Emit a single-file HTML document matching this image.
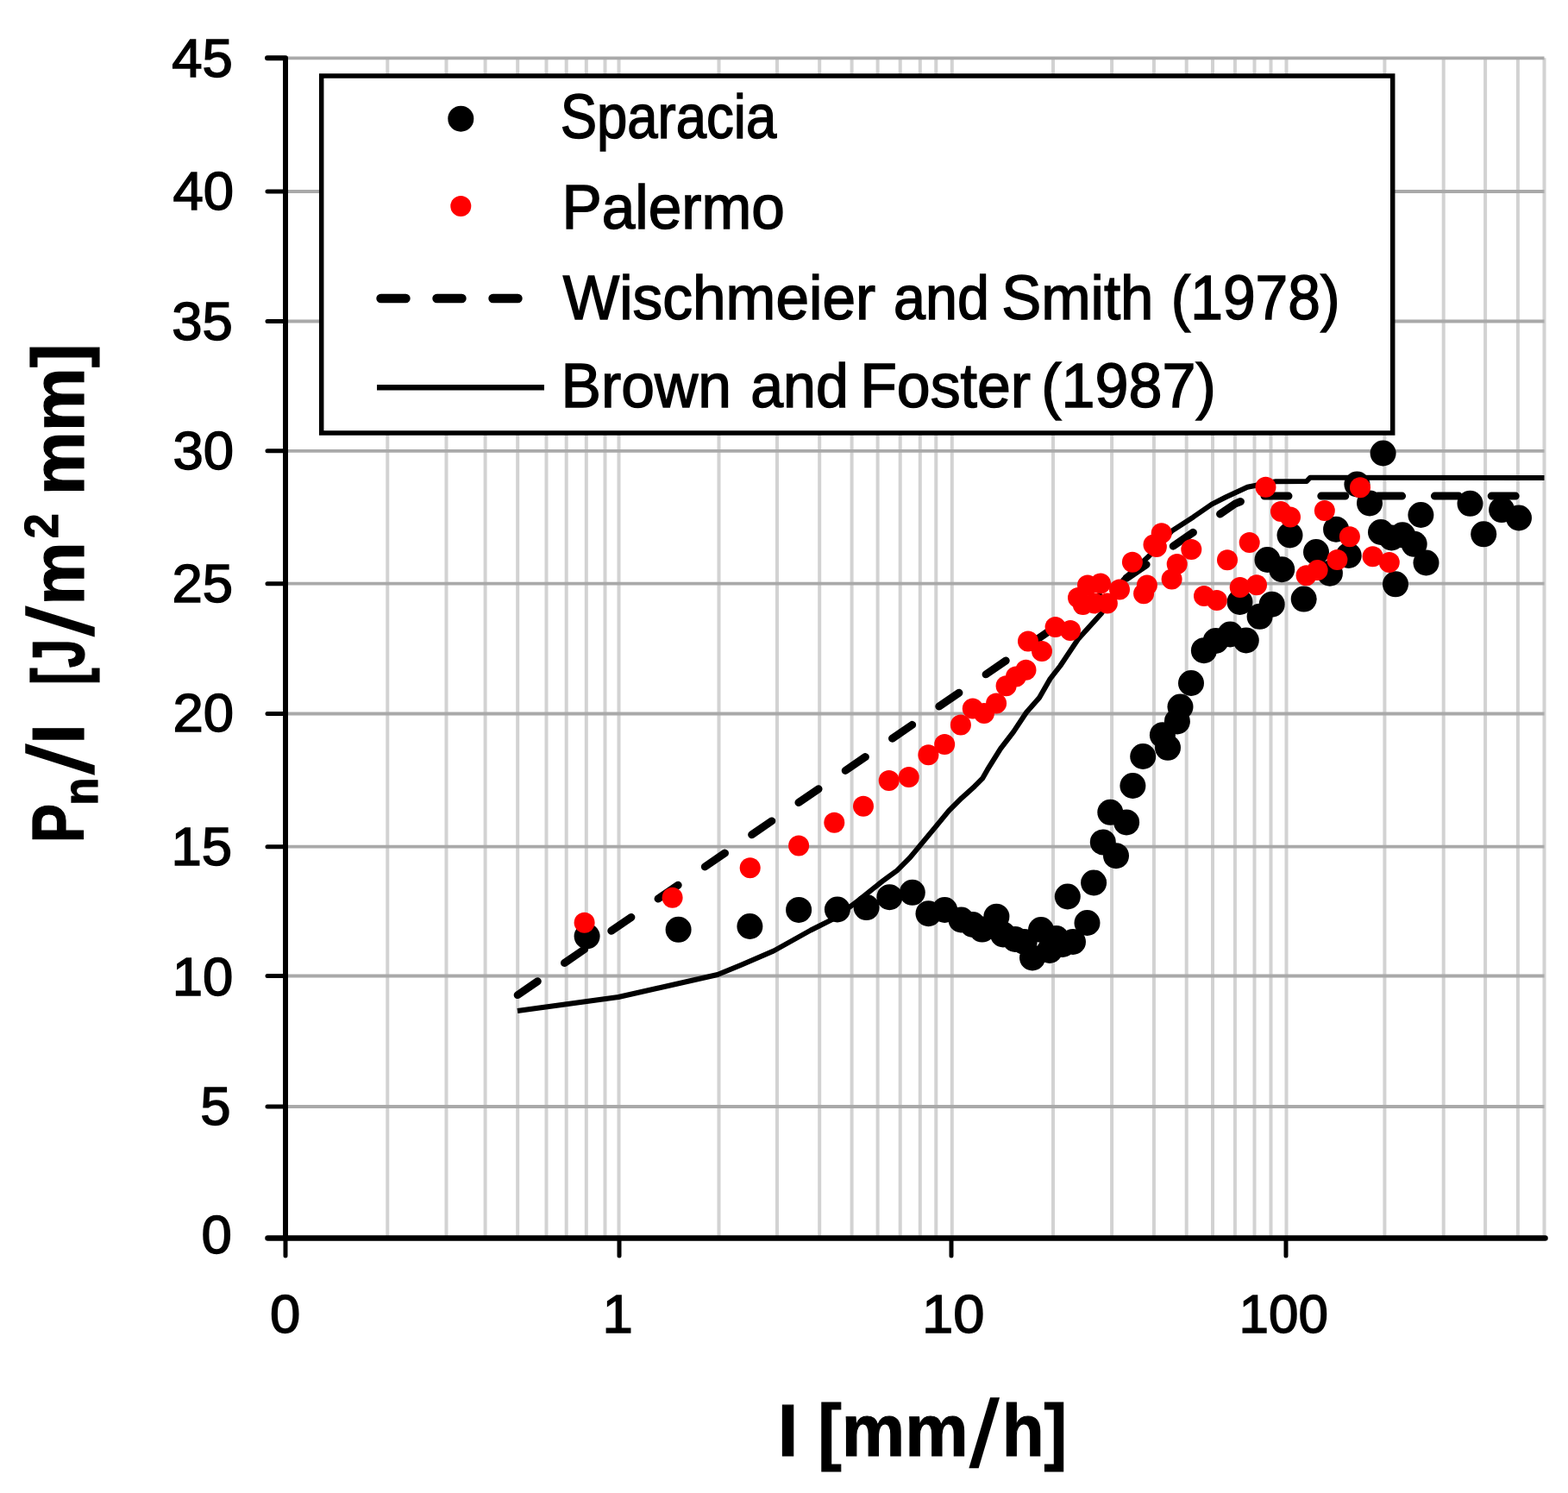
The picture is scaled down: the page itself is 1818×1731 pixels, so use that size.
<!DOCTYPE html><html><head><meta charset="utf-8"><style>html,body{margin:0;padding:0;background:#fff;overflow:hidden}svg{display:block}</style></head><body><svg width="1818" height="1731" viewBox="0 0 1818 1731">
<rect x="0" y="0" width="1818" height="1731" fill="#fff"/>
<path d="M449.3 67.3V1435.5M517.5 67.3V1435.5M562.6 67.3V1435.5M600.2 67.3V1435.5M633.5 67.3V1435.5M656.7 67.3V1435.5M679.8 67.3V1435.5M701.5 67.3V1435.5M717.5 67.3V1435.5M833.5 67.3V1435.5M901.0 67.3V1435.5M950.2 67.3V1435.5M987.6 67.3V1435.5M1017.6 67.3V1435.5M1043.7 67.3V1435.5M1066.8 67.3V1435.5M1085.3 67.3V1435.5M1103.8 67.3V1435.5M1221.0 67.3V1435.5M1289.1 67.3V1435.5M1337.9 67.3V1435.5M1375.7 67.3V1435.5M1406.0 67.3V1435.5M1431.9 67.3V1435.5M1454.5 67.3V1435.5M1473.5 67.3V1435.5M1491.5 67.3V1435.5M1605.4 67.3V1435.5M1673.7 67.3V1435.5M1722.1 67.3V1435.5M1759.9 67.3V1435.5M1790.5 67.3V1435.5" stroke="#d2d2d2" stroke-width="4" fill="none"/>
<path d="M331.0 1283.0H1790.5M331.0 1131.5H1790.5M331.0 981.7H1790.5M331.0 827.5H1790.5M331.0 676.7H1790.5M331.0 522.8H1790.5M331.0 372.5H1790.5M331.0 222.0H1790.5M331.0 67.3H1790.5" stroke="#a9a9a9" stroke-width="3.8" fill="none"/>
<path d="M600.2 1153.6 L1431.9 584.1 L1454.5 575.1" stroke="#000" stroke-width="9" fill="none" stroke-dasharray="28 37.8" stroke-linecap="round" stroke-linejoin="round"/>
<path d="M1454.5 575.1H1785" stroke="#000" stroke-width="9" fill="none" stroke-dasharray="28 37.8" stroke-dashoffset="-11.5" stroke-linecap="round"/>
<path d="M600.0 1172.0 L717.0 1156.0 L832.0 1130.0 L860.0 1118.5 L897.0 1102.5 L940.0 1078.5 L967.7 1064.6 L995.5 1043.8 L1023.2 1021.6 L1040.0 1009.3 L1055.0 994.3 L1070.0 976.3 L1085.0 958.3 L1100.0 940.2 L1115.0 925.2 L1130.0 911.7 L1139.0 902.7 L1145.0 892.2 L1160.0 868.1 L1175.0 848.6 L1190.0 826.0 L1205.0 809.0 L1217.6 787.0 L1229.3 772.0 L1250.0 741.0 L1276.7 711.6 L1302.7 672.0 L1332.4 644.5 L1358.8 615.5 L1383.6 599.4 L1405.0 584.6 L1421.5 576.3 L1446.3 564.8 L1479.3 558.2 L1515.0 558.0 L1519.0 553.8 L1790.5 554.0" stroke="#000" stroke-width="6" fill="none" stroke-linejoin="round"/>
<g fill="#000"><circle cx="680.6" cy="1085.5" r="15"/><circle cx="786.6" cy="1077.8" r="15"/><circle cx="869.4" cy="1074.0" r="15"/><circle cx="926.1" cy="1054.9" r="15"/><circle cx="970.9" cy="1054.5" r="15"/><circle cx="1004.6" cy="1052.1" r="15"/><circle cx="1031.4" cy="1040.2" r="15"/><circle cx="1057.8" cy="1034.8" r="15"/><circle cx="1076.5" cy="1059.2" r="15"/><circle cx="1095.3" cy="1055.0" r="15"/><circle cx="1114.5" cy="1066.5" r="15"/><circle cx="1127.8" cy="1072.0" r="15"/><circle cx="1138.7" cy="1077.6" r="15"/><circle cx="1155.4" cy="1062.7" r="15"/><circle cx="1163.1" cy="1083.5" r="15"/><circle cx="1177.0" cy="1089.0" r="15"/><circle cx="1187.7" cy="1092.0" r="15"/><circle cx="1197.0" cy="1110.5" r="15"/><circle cx="1207.0" cy="1078.0" r="15"/><circle cx="1217.0" cy="1102.0" r="15"/><circle cx="1224.7" cy="1088.0" r="15"/><circle cx="1232.0" cy="1095.0" r="15"/><circle cx="1237.8" cy="1039.5" r="15"/><circle cx="1244.0" cy="1092.0" r="15"/><circle cx="1260.5" cy="1070.0" r="15"/><circle cx="1268.1" cy="1023.5" r="15"/><circle cx="1278.8" cy="976.4" r="15"/><circle cx="1287.3" cy="941.8" r="15"/><circle cx="1294.0" cy="992.2" r="15"/><circle cx="1306.1" cy="953.4" r="15"/><circle cx="1313.4" cy="911.0" r="15"/><circle cx="1325.2" cy="877.0" r="15"/><circle cx="1347.9" cy="852.2" r="15"/><circle cx="1354.0" cy="866.8" r="15"/><circle cx="1364.9" cy="836.4" r="15"/><circle cx="1368.5" cy="819.5" r="15"/><circle cx="1381.0" cy="792.0" r="15"/><circle cx="1395.9" cy="754.2" r="15"/><circle cx="1409.6" cy="743.0" r="15"/><circle cx="1426.3" cy="735.5" r="15"/><circle cx="1444.8" cy="742.5" r="15"/><circle cx="1460.6" cy="714.8" r="15"/><circle cx="1474.7" cy="700.7" r="15"/><circle cx="1437.5" cy="698.0" r="15"/><circle cx="1511.7" cy="694.6" r="15"/><circle cx="1486.2" cy="660.2" r="15"/><circle cx="1469.5" cy="649.0" r="15"/><circle cx="1495.5" cy="620.5" r="15"/><circle cx="1526.0" cy="640.0" r="15"/><circle cx="1549.1" cy="613.7" r="15"/><circle cx="1563.7" cy="644.0" r="15"/><circle cx="1541.9" cy="664.7" r="15"/><circle cx="1573.4" cy="561.5" r="15"/><circle cx="1588.0" cy="583.4" r="15"/><circle cx="1601.0" cy="617.0" r="15"/><circle cx="1613.4" cy="623.4" r="15"/><circle cx="1626.1" cy="620.3" r="15"/><circle cx="1639.7" cy="630.8" r="15"/><circle cx="1647.4" cy="597.0" r="15"/><circle cx="1653.5" cy="652.5" r="15"/><circle cx="1618.0" cy="677.3" r="15"/><circle cx="1603.6" cy="525.5" r="15"/><circle cx="1704.5" cy="583.8" r="15"/><circle cx="1720.2" cy="619.3" r="15"/><circle cx="1741.1" cy="591.1" r="15"/><circle cx="1761.0" cy="600.5" r="15"/></g>
<g fill="#ff0000"><circle cx="677.6" cy="1069.7" r="12"/><circle cx="779.6" cy="1040.7" r="12"/><circle cx="869.7" cy="1006.3" r="12"/><circle cx="926.1" cy="980.6" r="12"/><circle cx="967.3" cy="953.7" r="12"/><circle cx="1001.0" cy="934.8" r="12"/><circle cx="1030.7" cy="905.0" r="12"/><circle cx="1053.7" cy="901.0" r="12"/><circle cx="1076.4" cy="875.2" r="12"/><circle cx="1095.2" cy="863.0" r="12"/><circle cx="1113.9" cy="840.6" r="12"/><circle cx="1127.8" cy="821.6" r="12"/><circle cx="1141.0" cy="826.9" r="12"/><circle cx="1155.1" cy="815.4" r="12"/><circle cx="1166.6" cy="795.2" r="12"/><circle cx="1178.0" cy="784.6" r="12"/><circle cx="1189.5" cy="776.7" r="12"/><circle cx="1192.0" cy="743.5" r="12"/><circle cx="1208.0" cy="755.0" r="12"/><circle cx="1223.6" cy="727.0" r="12"/><circle cx="1241.0" cy="731.0" r="12"/><circle cx="1250.0" cy="693.0" r="12"/><circle cx="1255.7" cy="701.0" r="12"/><circle cx="1269.0" cy="699.5" r="12"/><circle cx="1261.0" cy="678.6" r="12"/><circle cx="1276.0" cy="676.4" r="12"/><circle cx="1283.9" cy="699.6" r="12"/><circle cx="1298.0" cy="683.4" r="12"/><circle cx="1312.9" cy="651.7" r="12"/><circle cx="1326.1" cy="688.2" r="12"/><circle cx="1329.9" cy="678.6" r="12"/><circle cx="1337.5" cy="631.4" r="12"/><circle cx="1340.9" cy="634.0" r="12"/><circle cx="1346.7" cy="618.3" r="12"/><circle cx="1358.6" cy="671.6" r="12"/><circle cx="1364.7" cy="653.9" r="12"/><circle cx="1381.3" cy="637.0" r="12"/><circle cx="1396.0" cy="691.0" r="12"/><circle cx="1410.8" cy="696.0" r="12"/><circle cx="1423.0" cy="649.3" r="12"/><circle cx="1437.7" cy="681.0" r="12"/><circle cx="1457.0" cy="678.2" r="12"/><circle cx="1448.7" cy="629.1" r="12"/><circle cx="1467.5" cy="564.8" r="12"/><circle cx="1485.0" cy="593.0" r="12"/><circle cx="1496.0" cy="599.4" r="12"/><circle cx="1514.6" cy="667.2" r="12"/><circle cx="1527.6" cy="661.0" r="12"/><circle cx="1535.8" cy="591.9" r="12"/><circle cx="1550.4" cy="648.9" r="12"/><circle cx="1564.9" cy="622.2" r="12"/><circle cx="1577.0" cy="565.2" r="12"/><circle cx="1591.6" cy="645.3" r="12"/><circle cx="1610.8" cy="652.1" r="12"/></g>
<path d="M310 67.3H331.0V1435.5" stroke="#000" stroke-width="6" fill="none" stroke-linejoin="round" stroke-linecap="round"/>
<path d="M310.5 1435.5H1791.5" stroke="#000" stroke-width="6.5" fill="none" stroke-linecap="round"/>
<path d="M310 1283.0H331.0M310 1131.5H331.0M310 981.7H331.0M310 827.5H331.0M310 676.7H331.0M310 522.8H331.0M310 372.5H331.0M310 222.0H331.0M331.0 1435.5V1456M718.0 1435.5V1456M1103.0 1435.5V1456M1491.0 1435.5V1456" stroke="#000" stroke-width="5" fill="none" stroke-linecap="round"/>
<rect x="372.7" y="88" width="1242" height="414" fill="#fff" stroke="#000" stroke-width="5.5"/>
<circle cx="534.3" cy="137.7" r="15" fill="#000"/>
<circle cx="534.3" cy="239" r="12" fill="#ff0000"/>
<path d="M441.5 346H470.5M506.5 346H535.5M571.5 346H600.5" stroke="#000" stroke-width="10.4" stroke-linecap="round"/>
<path d="M437 449.3H631" stroke="#000" stroke-width="6.5"/>
<text x="649.67" y="159.50" font-family="'Liberation Sans', Arial, sans-serif" font-size="72.5" stroke="#000" stroke-width="1.5" textLength="250.59" lengthAdjust="spacingAndGlyphs">Sparacia</text>
<text x="651.41" y="265.00" font-family="'Liberation Sans', Arial, sans-serif" font-size="72.5" stroke="#000" stroke-width="1.5" textLength="258.47" lengthAdjust="spacingAndGlyphs">Palermo</text>
<text x="652.70" y="370.00" font-family="'Liberation Sans', Arial, sans-serif" font-size="72.5" stroke="#000" stroke-width="1.5" textLength="362.43" lengthAdjust="spacingAndGlyphs">Wischmeier</text>
<text x="1035.97" y="370.00" font-family="'Liberation Sans', Arial, sans-serif" font-size="72.5" stroke="#000" stroke-width="1.5" textLength="110.98" lengthAdjust="spacingAndGlyphs">and</text>
<text x="1161.15" y="370.00" font-family="'Liberation Sans', Arial, sans-serif" font-size="72.5" stroke="#000" stroke-width="1.5" textLength="176.27" lengthAdjust="spacingAndGlyphs">Smith</text>
<text x="1357.77" y="370.00" font-family="'Liberation Sans', Arial, sans-serif" font-size="72.5" stroke="#000" stroke-width="1.5" textLength="195.68" lengthAdjust="spacingAndGlyphs">(1978)</text>
<text x="650.60" y="471.50" font-family="'Liberation Sans', Arial, sans-serif" font-size="72.5" stroke="#000" stroke-width="1.5" textLength="197.36" lengthAdjust="spacingAndGlyphs">Brown</text>
<text x="870.22" y="471.50" font-family="'Liberation Sans', Arial, sans-serif" font-size="72.5" stroke="#000" stroke-width="1.5" textLength="113.50" lengthAdjust="spacingAndGlyphs">and</text>
<text x="997.18" y="472.00" font-family="'Liberation Sans', Arial, sans-serif" font-size="72.5" stroke="#000" stroke-width="1.5" textLength="197.87" lengthAdjust="spacingAndGlyphs">Foster</text>
<text x="1207.23" y="472.00" font-family="'Liberation Sans', Arial, sans-serif" font-size="72.5" stroke="#000" stroke-width="1.5" textLength="202.52" lengthAdjust="spacingAndGlyphs">(1987)</text>
<text x="312.90" y="1545.00" font-family="'Liberation Sans', Arial, sans-serif" font-size="63.5" stroke="#000" stroke-width="1.5">0</text>
<text x="698.50" y="1545.00" font-family="'Liberation Sans', Arial, sans-serif" font-size="63.5" stroke="#000" stroke-width="1.5">1</text>
<text x="1069.00" y="1545.00" font-family="'Liberation Sans', Arial, sans-serif" font-size="63.5" stroke="#000" stroke-width="1.5" textLength="72.49" lengthAdjust="spacingAndGlyphs">10</text>
<text x="1436.59" y="1545.00" font-family="'Liberation Sans', Arial, sans-serif" font-size="63.5" stroke="#000" stroke-width="1.5" textLength="103.52" lengthAdjust="spacingAndGlyphs">100</text>
<text x="901.80" y="1687.60" font-family="'Liberation Sans', Arial, sans-serif" font-size="85" font-weight="bold" stroke="#000" stroke-width="1.2">I</text>
<text x="948.21" y="1687.60" font-family="'Liberation Sans', Arial, sans-serif" font-size="85" font-weight="bold" stroke="#000" stroke-width="1.2" textLength="174.43" lengthAdjust="spacingAndGlyphs">[mm</text>
<text x="1124.61" y="1700.00" font-family="'Liberation Sans', Arial, sans-serif" font-size="108.6" stroke="#000" stroke-width="1.5" textLength="33.47" lengthAdjust="spacingAndGlyphs">/</text>
<text x="1161.69" y="1687.60" font-family="'Liberation Sans', Arial, sans-serif" font-size="85" font-weight="bold" stroke="#000" stroke-width="1.2" textLength="75.60" lengthAdjust="spacingAndGlyphs">h]</text>
<text x="-977.20" y="96.80" font-family="'Liberation Sans', Arial, sans-serif" font-size="85" font-weight="bold" stroke="#000" stroke-width="1.2" textLength="45.36" lengthAdjust="spacingAndGlyphs" transform="rotate(-90)">P</text>
<text x="-933.79" y="113.00" font-family="'Liberation Sans', Arial, sans-serif" font-size="56.5" font-weight="bold" stroke="#000" stroke-width="1.2" textLength="32.14" lengthAdjust="spacingAndGlyphs" transform="rotate(-90)">n</text>
<text x="-897.84" y="108.40" font-family="'Liberation Sans', Arial, sans-serif" font-size="108" stroke="#000" stroke-width="1.5" textLength="34.71" lengthAdjust="spacingAndGlyphs" transform="rotate(-90)">/</text>
<text x="-862.85" y="96.50" font-family="'Liberation Sans', Arial, sans-serif" font-size="85" font-weight="bold" stroke="#000" stroke-width="1.2" transform="rotate(-90)">I</text>
<text x="-794.34" y="96.50" font-family="'Liberation Sans', Arial, sans-serif" font-size="85" font-weight="bold" stroke="#000" stroke-width="1.2" textLength="53.60" lengthAdjust="spacingAndGlyphs" transform="rotate(-90)">[J</text>
<text x="-737.46" y="108.40" font-family="'Liberation Sans', Arial, sans-serif" font-size="108" stroke="#000" stroke-width="1.5" textLength="34.14" lengthAdjust="spacingAndGlyphs" transform="rotate(-90)">/</text>
<text x="-701.86" y="96.50" font-family="'Liberation Sans', Arial, sans-serif" font-size="85" font-weight="bold" stroke="#000" stroke-width="1.2" textLength="73.53" lengthAdjust="spacingAndGlyphs" transform="rotate(-90)">m</text>
<text x="-624.23" y="66.80" font-family="'Liberation Sans', Arial, sans-serif" font-size="56" font-weight="bold" stroke="#000" stroke-width="1.2" textLength="28.93" lengthAdjust="spacingAndGlyphs" transform="rotate(-90)">2</text>
<text x="-574.30" y="96.50" font-family="'Liberation Sans', Arial, sans-serif" font-size="85" font-weight="bold" stroke="#000" stroke-width="1.2" textLength="175.77" lengthAdjust="spacingAndGlyphs" transform="rotate(-90)">mm]</text>
<text x="233.40" y="1452.70" font-family="'Liberation Sans', Arial, sans-serif" font-size="63.5" stroke="#000" stroke-width="1.5">0</text>
<text x="232.30" y="1304.20" font-family="'Liberation Sans', Arial, sans-serif" font-size="63.5" stroke="#000" stroke-width="1.5">5</text>
<text x="199.80" y="1153.90" font-family="'Liberation Sans', Arial, sans-serif" font-size="63.5" stroke="#000" stroke-width="1.5">10</text>
<text x="198.50" y="1002.50" font-family="'Liberation Sans', Arial, sans-serif" font-size="63.5" stroke="#000" stroke-width="1.5">15</text>
<text x="200.40" y="848.40" font-family="'Liberation Sans', Arial, sans-serif" font-size="63.5" stroke="#000" stroke-width="1.5">20</text>
<text x="199.40" y="698.10" font-family="'Liberation Sans', Arial, sans-serif" font-size="63.5" stroke="#000" stroke-width="1.5">25</text>
<text x="200.40" y="544.00" font-family="'Liberation Sans', Arial, sans-serif" font-size="63.5" stroke="#000" stroke-width="1.5">30</text>
<text x="199.30" y="394.40" font-family="'Liberation Sans', Arial, sans-serif" font-size="63.5" stroke="#000" stroke-width="1.5">35</text>
<text x="200.50" y="242.80" font-family="'Liberation Sans', Arial, sans-serif" font-size="63.5" stroke="#000" stroke-width="1.5">40</text>
<text x="199.30" y="89.10" font-family="'Liberation Sans', Arial, sans-serif" font-size="63.5" stroke="#000" stroke-width="1.5">45</text>
</svg></body></html>
